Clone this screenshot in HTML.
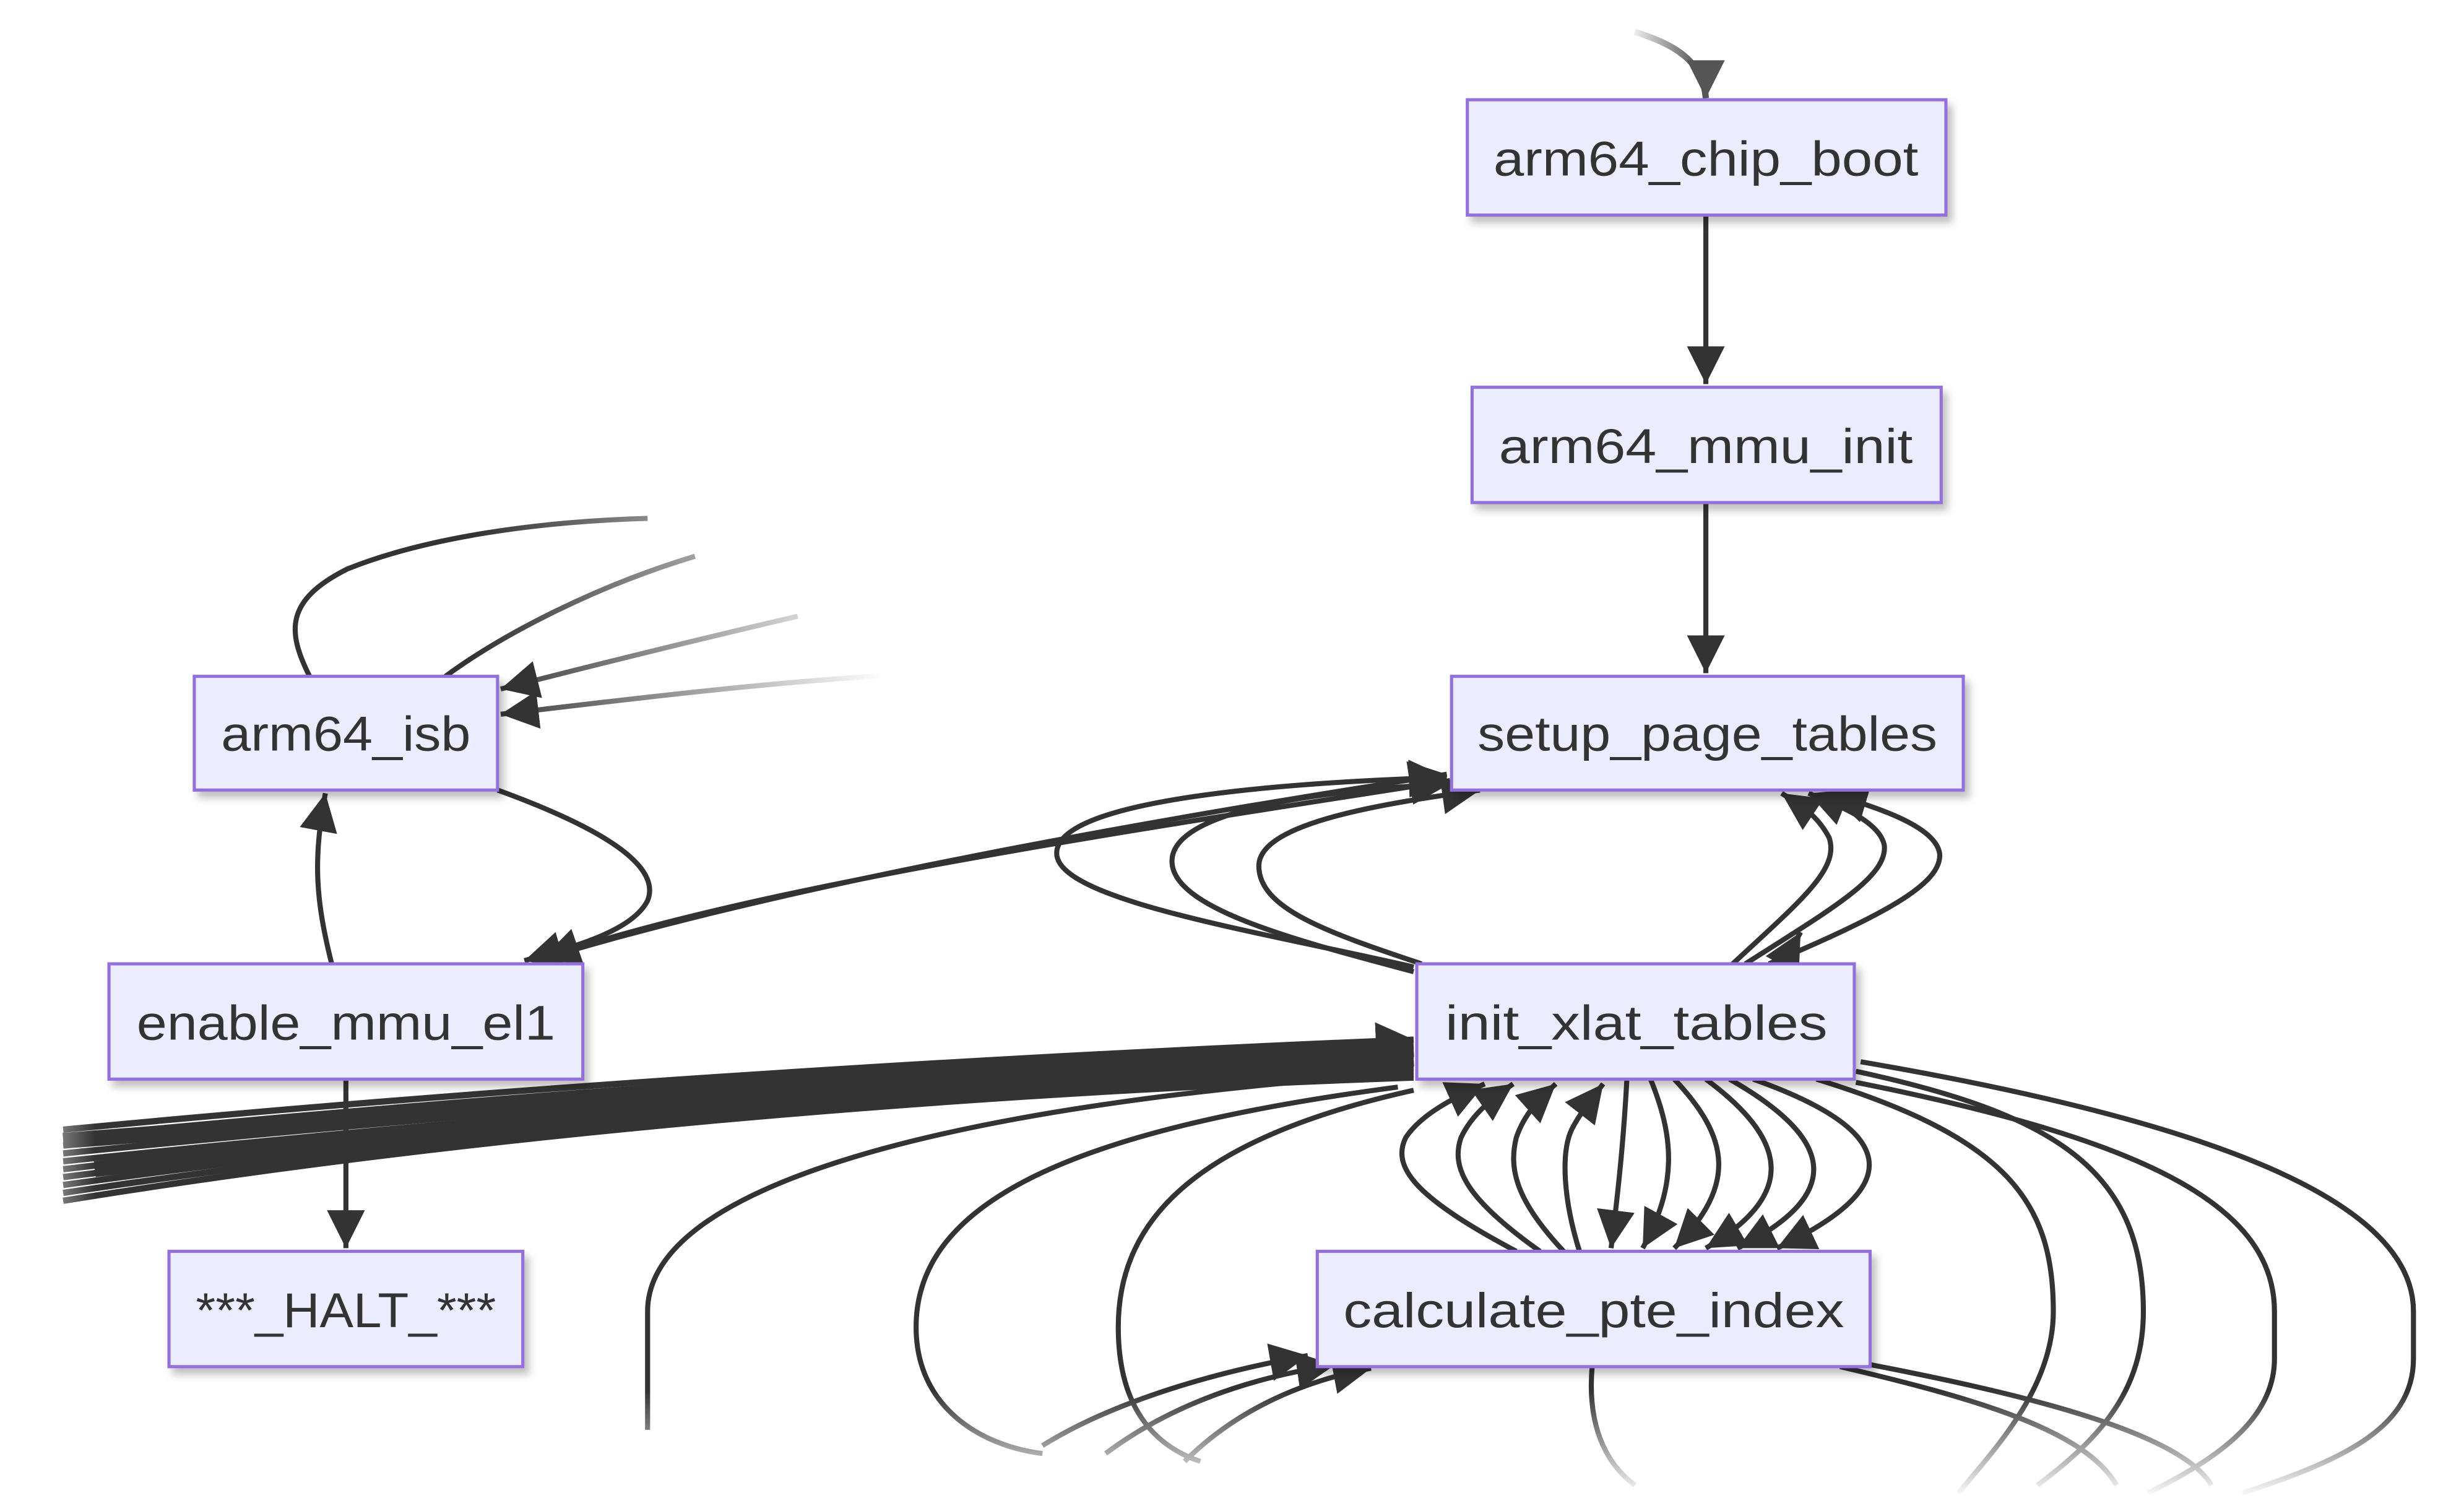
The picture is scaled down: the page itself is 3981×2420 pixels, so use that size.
<!DOCTYPE html>
<html><head><meta charset="utf-8"><style>
html,body{margin:0;padding:0;background:#fff;}
svg{display:block;}
text{font-family:"Liberation Sans",sans-serif;fill:#333;font-size:31px;}
</style></head><body>
<svg width="3981" height="2420" viewBox="0 0 1560 948" xmlns="http://www.w3.org/2000/svg">
<defs>
<marker id="a" markerUnits="userSpaceOnUse" markerWidth="26" markerHeight="26" refX="24" refY="12" orient="auto"><path d="M0,0 L24,12 L0,24 Z" fill="#333"/></marker>
<filter id="sh" x="-10%" y="-10%" width="130%" height="140%"><feDropShadow dx="3" dy="4" stdDeviation="2.5" flood-color="#000" flood-opacity="0.25"/></filter>
<linearGradient id="fr" gradientUnits="userSpaceOnUse" x1="300" y1="0" x2="560" y2="0"><stop offset="0" stop-color="#333"/><stop offset="1" stop-color="#333" stop-opacity="0"/></linearGradient>
<linearGradient id="ft" gradientUnits="userSpaceOnUse" x1="1075" y1="0" x2="1030" y2="0"><stop offset="0" stop-color="#555"/><stop offset="1" stop-color="#555" stop-opacity="0"/></linearGradient>
<linearGradient id="wb" x1="0" y1="0" x2="0" y2="1"><stop offset="0" stop-color="#fff" stop-opacity="0"/><stop offset="1" stop-color="#fff"/></linearGradient>
<linearGradient id="wl" x1="1" y1="0" x2="0" y2="0"><stop offset="0" stop-color="#fff" stop-opacity="0"/><stop offset="1" stop-color="#fff"/></linearGradient>
</defs>
<g fill="none" stroke="#333" stroke-width="3.2">
<path d="M1035,20 C1060,28 1078,38 1080,62" stroke="url(#ft)" stroke-width="4"/>
<path d="M1068,38 L1092,38 L1080,62 Z" fill="#555" stroke="none"/>
<path d="M1080,136 L1080,243" marker-end="url(#a)"/>
<path d="M1080,318 L1080,426" marker-end="url(#a)"/>
<path d="M196,428 C182,400 180,380 220,360 C270,340 340,330 410,328" stroke="url(#fr)"/>
<path d="M282,428 C320,400 380,370 440,352" stroke="url(#fr)"/>
<path d="M505,390 C440,405 380,420 317,436" stroke="url(#fr)" marker-end="url(#a)"/>
<path d="M590,426 C500,430 420,440 317,452" stroke="url(#fr)" marker-end="url(#a)"/>
<path d="M315,500 C370,520 420,545 410,570 C400,590 360,600 332,608" marker-end="url(#a)"/>
<path d="M210,610 C200,570 198,545 206,502" marker-end="url(#a)"/>
<path d="M918,494 C720,525 480,560 343,607" marker-end="url(#a)"/>
<path d="M350,605 C500,560 720,520 916,490" marker-end="url(#a)"/>
<path d="M895,612 C800,590 669,570 669,540 C669,505 820,495 916,492" marker-end="url(#a)"/>
<path d="M895,615 C820,595 742,575 742,545 C742,512 840,500 918,496" marker-end="url(#a)"/>
<path d="M900,610 C840,590 797,575 797,548 C797,520 880,508 937,500" marker-end="url(#a)"/>
<path d="M1097,610 C1140,570 1165,550 1158,530 C1150,515 1140,510 1128,502" marker-end="url(#a)"/>
<path d="M1105,610 C1160,575 1195,555 1193,535 C1190,520 1165,510 1145,502" marker-end="url(#a)"/>
<path d="M1120,610 C1190,580 1230,560 1228,540 C1225,522 1185,510 1158,502" marker-end="url(#a)"/>
<path d="M1130,608 L1140,590" marker-end="url(#a)"/>
<g stroke-width="4">
<path d="M40,715 C300,690 600,670 895,658" marker-end="url(#a)"/>
<path d="M40,720 C300,695 600,672 895,662"/>
<path d="M40,725 C300,700 600,676 895,666"/>
<path d="M40,730 C300,704 600,680 895,670"/>
<path d="M40,735 C300,708 600,682 895,672"/>
<path d="M40,740 C300,710 600,684 895,674"/>
<path d="M40,745 C300,712 600,686 895,676"/>
<path d="M40,750 C300,714 600,688 895,678"/>
<path d="M40,755 C300,716 600,690 895,680"/>
<path d="M40,760 C300,718 600,692 895,682"/>
</g>
<path d="M40,722 C300,702 500,686 895,664" stroke-width="10"/>
<path d="M60,740 C300,712 500,692 895,670" stroke-width="10"/>
<path d="M880,680 C600,700 410,750 410,830 L410,905" />
<path d="M885,688 C680,715 580,760 580,840 C580,890 620,915 660,920" />
<path d="M895,690 C760,720 708,770 708,840 C708,890 730,915 760,925" />
<path d="M660,915 C700,890 760,870 828,858" marker-end="url(#a)"/>
<path d="M700,920 C740,890 790,872 845,864" marker-end="url(#a)"/>
<path d="M750,925 C780,895 820,875 868,866" marker-end="url(#a)"/>
<path d="M1008,865 C1005,900 1015,925 1035,940"/>
<path d="M1165,865 C1250,885 1320,905 1340,940"/>
<path d="M1175,862 C1270,880 1380,905 1400,940"/>
<path d="M1175,678 C1300,705 1357,740 1357,830 C1357,880 1330,910 1290,940"/>
<path d="M1175,685 C1350,720 1440,760 1440,830 L1440,860 C1440,900 1400,925 1360,945"/>
<path d="M1178,672 C1400,710 1528,760 1528,830 L1528,860 C1528,905 1480,925 1420,945"/>
<path d="M1150,683 C1270,720 1300,760 1300,830 C1300,880 1260,920 1240,945"/>
<path d="M960,792 C900,760 880,740 890,720 C900,705 920,695 940,686" marker-end="url(#a)"/>
<path d="M975,792 C930,760 918,740 925,720 C932,705 945,695 958,686" marker-end="url(#a)"/>
<path d="M990,792 C960,760 955,740 960,720 C965,705 975,695 985,686" marker-end="url(#a)"/>
<path d="M1000,792 C990,760 988,730 995,715 C1000,705 1008,695 1015,686" marker-end="url(#a)"/>
<path d="M1030,683 C1028,720 1025,750 1020,790" marker-end="url(#a)"/>
<path d="M1045,683 C1060,720 1062,750 1040,790" marker-end="url(#a)"/>
<path d="M1060,683 C1095,720 1100,750 1060,790" marker-end="url(#a)"/>
<path d="M1080,683 C1130,720 1140,755 1080,790" marker-end="url(#a)"/>
<path d="M1095,683 C1160,720 1170,755 1100,790" marker-end="url(#a)"/>
<path d="M1110,683 C1200,715 1210,750 1125,790" marker-end="url(#a)"/>
<path d="M219,683 L219,790" marker-end="url(#a)"/>
</g>
<rect x="0" y="880" width="1560" height="68" fill="url(#wb)"/>
<rect x="0" y="680" width="60" height="100" fill="url(#wl)"/>
<g fill="#ECECFF" stroke="#9370DB" stroke-width="2" filter="url(#sh)">
<rect x="929" y="63" width="303" height="73"/>
<rect x="932" y="245" width="297" height="73"/>
<rect x="919" y="428" width="324" height="72"/>
<rect x="123" y="428" width="192" height="72"/>
<rect x="69" y="610" width="300" height="73"/>
<rect x="897" y="610" width="277" height="73"/>
<rect x="107" y="792" width="224" height="73"/>
<rect x="834" y="792" width="350" height="73"/>
</g>
<g text-anchor="middle">
<text x="1080" y="111" textLength="269" lengthAdjust="spacingAndGlyphs">arm64_chip_boot</text>
<text x="1080" y="293" textLength="262" lengthAdjust="spacingAndGlyphs">arm64_mmu_init</text>
<text x="1081" y="475" textLength="291" lengthAdjust="spacingAndGlyphs">setup_page_tables</text>
<text x="219" y="475" textLength="158" lengthAdjust="spacingAndGlyphs">arm64_isb</text>
<text x="219" y="658" textLength="265" lengthAdjust="spacingAndGlyphs">enable_mmu_el1</text>
<text x="1036" y="658" textLength="242" lengthAdjust="spacingAndGlyphs">init_xlat_tables</text>
<text x="219" y="840" textLength="190" lengthAdjust="spacingAndGlyphs">***_HALT_***</text>
<text x="1009" y="840" textLength="317" lengthAdjust="spacingAndGlyphs">calculate_pte_index</text>
</g>
</svg>
</body></html>
